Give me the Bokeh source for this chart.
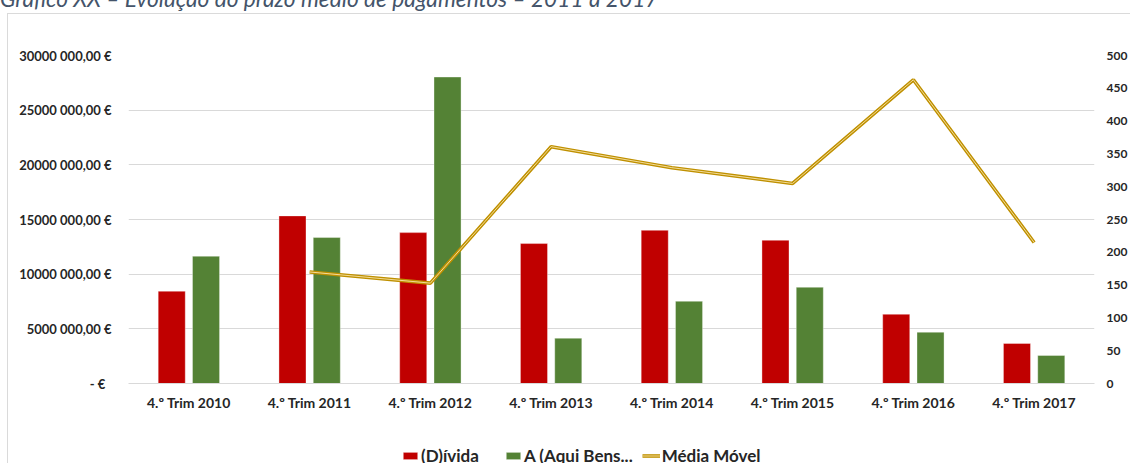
from bokeh.plotting import figure
from bokeh.layouts import column
from bokeh.models import (ColumnDataSource, FactorRange, Range1d, LinearAxis, FixedTicker,
                          Legend, LegendItem, Div)
from bokeh.transform import dodge
from bokeh.embed import file_html
from bokeh.resources import INLINE

# ---------------- data ----------------
categories = ["4.º Trim 2010", "4.º Trim 2011", "4.º Trim 2012", "4.º Trim 2013",
              "4.º Trim 2014", "4.º Trim 2015", "4.º Trim 2016", "4.º Trim 2017"]
divida = [8.44e6, 15.33e6, 13.80e6, 12.80e6, 14.01e6, 13.10e6, 6.33e6, 3.66e6]
aqui_bens = [11.64e6, 13.35e6, 28.03e6, 4.14e6, 7.52e6, 8.80e6, 4.69e6, 2.56e6]
media_movel_cats = categories[1:]
media_movel = [170, 153, 361, 329, 305, 463, 215]

left_ticks = [0, 5e6, 10e6, 15e6, 20e6, 25e6, 30e6]
left_tick_labels = ["-   €", "5000 000,00 €", "10000 000,00 €", "15000 000,00 €",
                    "20000 000,00 €", "25000 000,00 €", "30000 000,00 €"]
right_ticks = [0, 50, 100, 150, 200, 250, 300, 350, 400, 450, 500]
title_text = "Gráfico XX – Evolução do prazo médio de pagamentos – 2011 a 2017"
legend_labels = ["(D)ívida", "A (Aqui Bens...", "Média Móvel"]

RED = "#C00000"
GREEN = "#548235"
GOLD = "#BF9000"
GOLD_LIGHT = "#F3DC9A"
GRID = "#D9D9D9"
EDGE = "#DADADA"
TXT = "#262626"
FONT = "Lato"

SHIFT = 15      # rows hidden above the window (the title is cut off there)
TITLE_H = 29    # height of the title strip
LEG_H = 30      # height of the legend strip under the chart
MAIN_H = 463 + SHIFT - TITLE_H - LEG_H

# faint chart-area border (left edge at x=7, top edge at the bottom of the title strip)
left_edge = f"linear-gradient({EDGE}, {EDGE}) 7px 0 / 1px 100% no-repeat"
top_edge = f"linear-gradient({EDGE}, {EDGE}) 7px {TITLE_H - 1}px / 100% 1px no-repeat"

# ---------------- title strip ----------------
title = Div(text=title_text, width=1130, height=TITLE_H, margin=0,
            styles={"font-family": FONT, "font-style": "italic", "font-size": "22.7px",
                    "color": "#44546A", "line-height": "normal", "white-space": "nowrap",
                    "overflow": "hidden", "background": top_edge})

# ---------------- main chart ----------------
bars = ColumnDataSource(dict(cat=categories, divida=divida, aqui=aqui_bens))
line_src = ColumnDataSource(dict(cat=media_movel_cats, mm=media_movel))

p = figure(x_range=FactorRange(*categories, range_padding=0),
           y_range=Range1d(0, 30e6),
           width=1130, height=MAIN_H,
           output_backend="svg", toolbar_location=None,
           min_border_left=128, min_border_right=36,
           min_border_top=55 - (TITLE_H - SHIFT), min_border_bottom=50,
           styles={"background": left_edge})
p.extra_y_ranges = {"right": Range1d(0, 500)}
p.outline_line_color = None
p.background_fill_color = "white"
p.border_fill_color = None

bar_style = dict(line_color="white", line_alpha=0.35)
p.vbar(x=dodge("cat", -0.142, range=p.x_range), top="divida", width=0.224,
       source=bars, fill_color=RED, **bar_style)
p.vbar(x=dodge("cat", 0.142, range=p.x_range), top="aqui", width=0.224,
       source=bars, fill_color=GREEN, **bar_style)
p.line(x="cat", y="mm", source=line_src, y_range_name="right",
       line_color=GOLD, line_width=3.6)
p.line(x="cat", y="mm", source=line_src, y_range_name="right",
       line_color=GOLD_LIGHT, line_width=1.0)

p.xgrid.grid_line_color = None
p.ygrid.grid_line_color = GRID
p.ygrid.ticker = FixedTicker(ticks=left_ticks)


def style_axis(ax, size, standoff):
    ax.major_tick_line_color = None
    ax.minor_tick_line_color = None
    ax.major_tick_out = 0
    ax.major_tick_in = 0
    ax.minor_tick_out = 0
    ax.minor_tick_in = 0
    ax.major_label_text_font = FONT
    ax.major_label_text_font_style = "bold"
    ax.major_label_text_font_size = size
    ax.major_label_text_color = TXT
    ax.major_label_standoff = standoff


xa = p.xaxis[0]
style_axis(xa, "14px", 10)
xa.axis_line_color = GRID

ya = p.yaxis[0]
ya.ticker = FixedTicker(ticks=left_ticks)
ya.major_label_overrides = {t: s for t, s in zip(left_ticks, left_tick_labels)}
style_axis(ya, "13px", 17)
ya.axis_line_color = None

ra = LinearAxis(y_range_name="right", ticker=FixedTicker(ticks=right_ticks))
style_axis(ra, "12px", 12)
ra.axis_line_color = None
p.add_layout(ra, "right")

# ---------------- legend strip ----------------
lp = figure(width=1130, height=LEG_H, x_range=Range1d(0, 1), y_range=Range1d(0, 1),
            output_backend="svg", toolbar_location=None,
            min_border_left=0, min_border_right=0, min_border_top=0, min_border_bottom=0,
            styles={"background": left_edge})
lp.axis.visible = False
lp.grid.visible = False
lp.outline_line_color = None
lp.background_fill_color = "white"
lp.border_fill_color = None
# legend swatches: one point each, placed outside the strip's visible range
lg_red = lp.vbar(x=[-5], top=[-5], width=0.1, fill_color=RED, **bar_style)
lg_green = lp.vbar(x=[-5], top=[-5], width=0.1, fill_color=GREEN, **bar_style)
lg_l1 = lp.line(x=[-5, -4], y=[-5, -5], line_color=GOLD, line_width=3.6)
lg_l2 = lp.line(x=[-5, -4], y=[-5, -5], line_color=GOLD_LIGHT, line_width=1.0)

legend = Legend(items=[LegendItem(label=legend_labels[0], renderers=[lg_red]),
                       LegendItem(label=legend_labels[1], renderers=[lg_green]),
                       LegendItem(label=legend_labels[2], renderers=[lg_l1, lg_l2])],
                location=(273, -3), orientation="horizontal",
                glyph_width=18, glyph_height=9, label_standoff=2, label_width=74,
                spacing=9, padding=0, margin=0,
                border_line_alpha=0, background_fill_alpha=0,
                label_text_font=FONT, label_text_font_style="bold",
                label_text_font_size="17px", label_text_color=TXT)
lp.add_layout(legend, "center")

layout = column(title, p, lp, spacing=0, margin=(-SHIFT, 0, 0, 0))
open("out.html", "w").write(file_html(layout, INLINE))
